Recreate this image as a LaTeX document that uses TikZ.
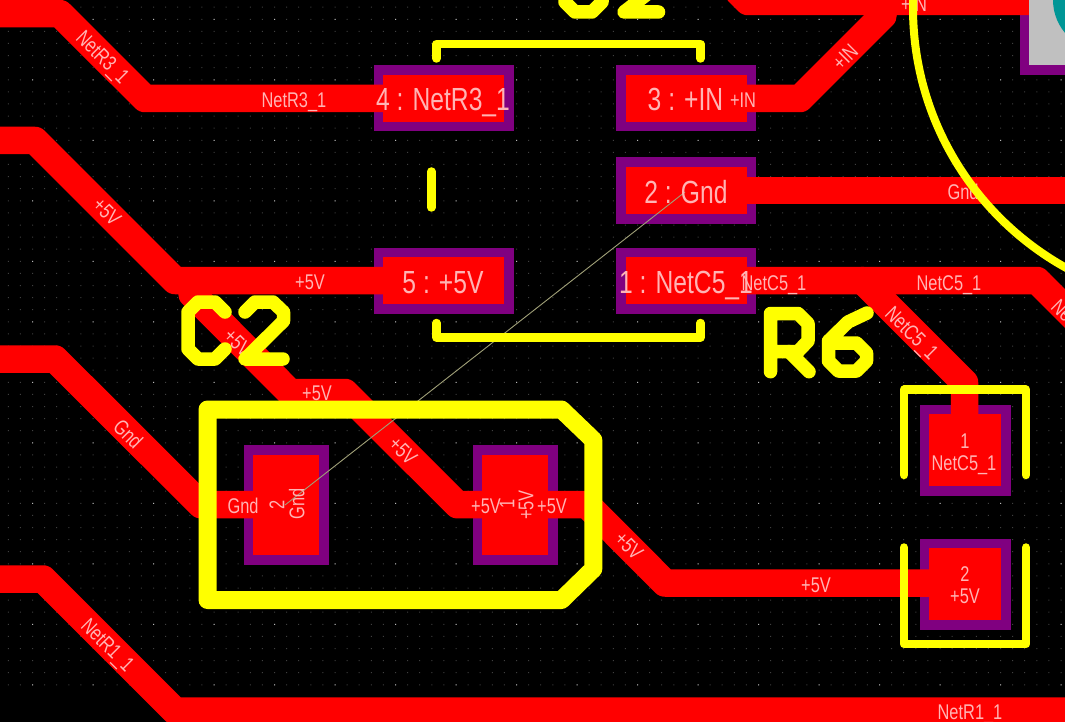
\documentclass[tikz,border=0pt]{standalone}
\usepackage{fontspec}
\newfontfamily\lab[FakeStretch=0.77]{Liberation Sans}
\definecolor{trk}{HTML}{FF0000}
\definecolor{mask}{HTML}{800080}
\definecolor{silk}{HTML}{FFFF00}
\definecolor{lbltxt}{HTML}{FFB4B4}
\definecolor{griddim}{HTML}{404040}
\definecolor{gridhi}{HTML}{B8B8B8}
\definecolor{rats}{HTML}{A0A078}
\definecolor{hole}{HTML}{009696}
\definecolor{padgray}{HTML}{C0C0C0}
\tikzset{
  track/.style={draw=trk,line width=27.5pt,line cap=round,line join=round},
  silkline/.style={draw=silk,line cap=round,line join=round},
  silkthin/.style={silkline,line width=8.5pt},
  silktext/.style={silkline,line width=13.5pt},
  silkbox/.style={silkline,line width=18pt},
  lb/.style={text=lbltxt,inner sep=0pt,text height=14.7pt,text depth=0pt,font=\lab\fontsize{21.3}{21.3}\selectfont},
  lbig/.style={text=lbltxt,inner sep=0pt,text height=22pt,text depth=0pt,font=\lab\fontsize{32}{32}\selectfont}
}
\newcommand{\smdpad}[5]{% name x0 y0 x1 y1
  \fill[mask] (#2-9.5,#3-9.5) rectangle (#4+9.5,#5+9.5);
}
\begin{document}
\begin{tikzpicture}[x=1pt,y=-1pt]
\useasboundingbox (0,0) rectangle (1065,722);
\fill[black] (0,0) rectangle (1065,722);
\clip (0,0) rectangle (1065,722);
% grid
\fill[griddim] \foreach \i in {0,...,90}{\foreach \j in {0,...,60}{
  ({637.5+12.1*(\i-55)-.5},{19.3+12.1*(\j-5)-.5}) rectangle ++(1,1)}};
\fill[gridhi] \foreach \i in {0,...,18}{\foreach \j in {0,...,12}{
  ({637.5+60.5*(\i-11)-.5},{19.3+60.5*(\j-1)-.5}) rectangle ++(1,1)}};
% solder mask
\smdpad{u4}{383}{75}{504}{122}
\smdpad{u5}{383}{257}{504}{304}
\smdpad{u3}{625.5}{75}{746.5}{122}
\smdpad{u2}{625.5}{167}{746.5}{214}
\smdpad{u1}{625.5}{257}{746.5}{304}
\smdpad{c2}{253}{454.7}{319}{555}
\smdpad{c1}{482}{454.7}{548}{555}
\smdpad{r1}{929}{414}{1001}{486}
\smdpad{r2}{929}{548}{1001}{620}
\fill[mask] (1019.5,-5) rectangle (1070,74.7);
% tracks
\draw[track] (-30,13.7) -- (60,13.7) -- (145,98.5) -- (390,98.5);
\draw[track] (-30,140.5) -- (35,140.5) -- (175,280.5) -- (390,280.5);
\draw[track] (192,294) -- (290,392.5) -- (345,392.5) -- (457.5,504.7) -- (587,504.7) -- (665,583) -- (945,583);
\draw[track] (-30,359) -- (55,359) -- (201,504.7) -- (270,504.7);
\draw[track] (-30,579) -- (43,579) -- (175,711) -- (1095,711);
\draw[track] (720,-27) -- (748,1.5) -- (1035,1.5);
\draw[track] (740,98.5) -- (800,98.5) -- (883,15.5);
\draw[track] (740,190.5) -- (1095,190.5);
\draw[track] (740,280.5) -- (1037,280.5) -- (1095,338.5);
\draw[track] (862.5,280.5) -- (964.5,382.5) -- (964.5,425);
% copper pads
\fill[trk] (383,75) rectangle (504,122);
\fill[trk] (383,257) rectangle (504,304);
\fill[trk] (625.5,75) rectangle (746.5,122);
\fill[trk] (625.5,167) rectangle (746.5,214);
\fill[trk] (625.5,257) rectangle (746.5,304);
\fill[trk] (253,454.7) rectangle (319,555);
\fill[trk] (482,454.7) rectangle (548,555);
\fill[trk] (929,414) rectangle (1001,486);
\fill[trk] (929,548) rectangle (1001,620);
\fill[padgray] (1029,-5) rectangle (1070,64.7);
\fill[hole] (1104,0) circle[radius=51];
% ratsnest
\coordinate (ratsa) at (685,192);
\coordinate (ratsb) at (285,505);
\draw[rats,line width=.9pt] (ratsa) -- (ratsb);
% labels
\node[lbig] (t4) at (443,100) {4 : NetR3\_1};
\node[lbig] (t3) at (685.5,100) {3 : +IN};
\node[lbig] (t2) at (686,193) {2 : Gnd};
\node[lbig] (t5) at (443,282) {5 : +5V};
\node[lbig] (t1) at (686,282) {1 : NetC5\_1};
\node[lb] (a1) at (294,100) {NetR3\_1};
\node[lb,rotate=-45] (a2) at (103,57) {NetR3\_1};
\node[lb,rotate=-45] (a3) at (107,212) {+5V};
\node[lb] (a4) at (310,282) {+5V};
\node[lb,rotate=-45] (a5) at (238,343) {+5V};
\node[lb] (a6) at (317,393) {+5V};
\node[lb,rotate=-45] (a7) at (403,451) {+5V};
\node[lb,rotate=-45] (a8) at (128,434) {Gnd};
\node[lb] (a9) at (243,506) {Gnd};
\node[lb,rotate=90] (a10) at (277,505) {2};
\node[lb,rotate=90] (a11) at (297,504) {Gnd};
\node[lb] (a12) at (486,506) {+5V};
\node[lb,rotate=90] (a13) at (507,504) {1};
\node[lb,rotate=90] (a14) at (526,505) {+5V};
\node[lb] (a15) at (552,506) {+5V};
\node[lb,rotate=-45] (a16) at (629,546) {+5V};
\node[lb] (a17) at (816,585) {+5V};
\node[lb] (a18) at (965,574) {2};
\node[lb] (a19) at (965,596) {+5V};
\node[lb] (a20) at (965,441) {1};
\node[lb] (a21) at (964,463) {NetC5\_1};
\node[lb,rotate=-45] (a22) at (108,645) {NetR1\_1};
\node[lb] (a23) at (970,712) {NetR1\_1};
\node[lb] (a24) at (949,283) {NetC5\_1};
\node[lb] (a25) at (774,283) {NetC5\_1};
\node[lb,rotate=-45] (a26) at (912,333) {NetC5\_1};
\node[lb,rotate=-45] (a27) at (1078,326) {NetC5\_1};
\node[lb] (a28) at (743,100) {+IN};
\node[lb,rotate=45] (a29) at (845,57) {+IN};
\node[lb] (a30) at (914,4) {+IN};
\node[lb] (a31) at (963,192) {Gnd};
% silk: arc
\draw[silk,line width=8pt] (1210,8) circle[radius=297];
% silk: C2 outline
\draw[silkbox] (207.5,409.5) -- (561.5,409.5) -- (593.3,440) -- (593.3,569) -- (561.5,600) -- (207.5,600) -- cycle;
% silk: U2 brackets
\draw[silkthin] (436.5,58.5) -- (436.5,44) -- (700.5,44) -- (700.5,58.5);
\draw[silkthin] (436.5,323) -- (436.5,337.5) -- (700.5,337.5) -- (700.5,323);
\draw[silkthin] (431.3,171.5) -- (431.3,207.5);
% silk: R6 brackets
\draw[silkthin] (904,475) -- (904,389.7) -- (1026,389.7) -- (1026,475);
\draw[silkthin] (904,547.5) -- (904,644) -- (1026,644) -- (1026,547.5);
% silk: refdes strokes
\draw[silktext] (225,312) -- (215,302) -- (198,302) -- (188,312) -- (188,349) -- (198,359) -- (215,359) -- (225,349);
\draw[silktext] (245,312) -- (255,302) -- (273,302) -- (283.5,312) -- (283.5,321) -- (245,359) -- (283,359);
\draw[silktext] (770.5,371.7) -- (770.5,313.5) -- (798,313.5) -- (808,323.5) -- (808,341) -- (798,351.5) -- (770.5,351.5);
\draw[silktext] (789,351.5) -- (809,371.7);
\draw[silktext] (867,313) -- (848,322) -- (828.5,341) -- (828.5,361) -- (838.5,371) -- (856.5,371) -- (866.5,361) -- (866.5,353) -- (856.5,343) -- (828.5,343);
\draw[silktext] (565,-20) -- (565,2) -- (575,12) -- (592,12) -- (602,2) -- (602,-20);
\draw[silktext] (659,-20) -- (659,-15) -- (624,12) -- (658.5,12);
\end{tikzpicture}
\end{document}
